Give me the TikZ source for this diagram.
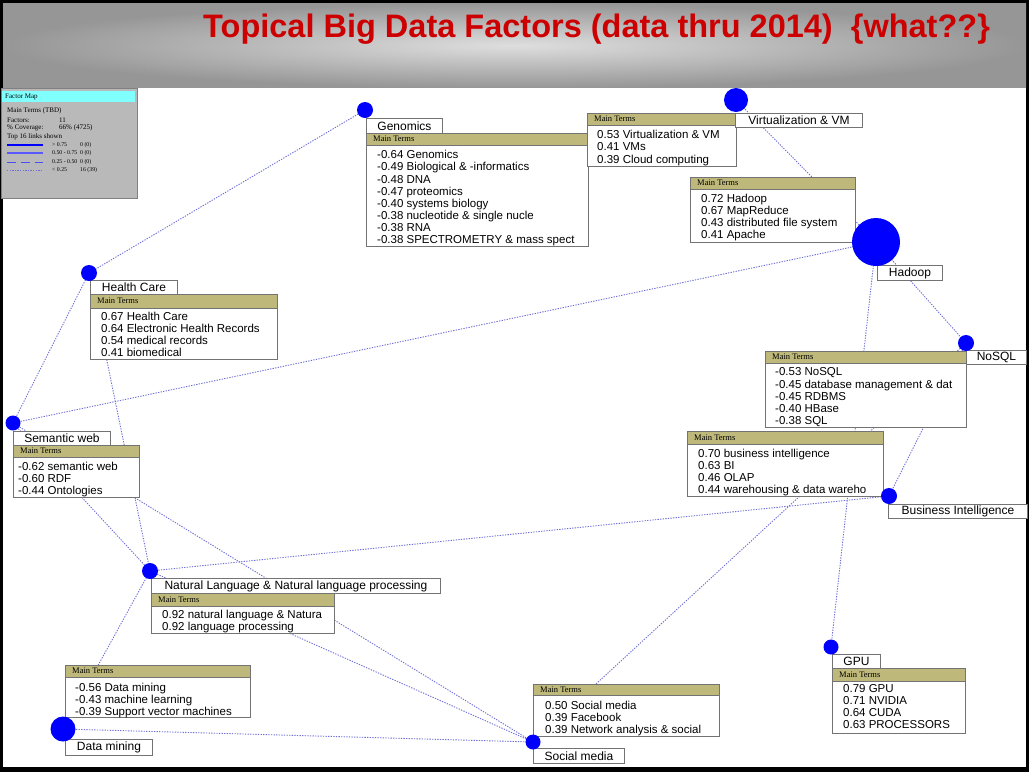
\documentclass[tikz,border=0pt]{standalone}
\usepackage{fontspec}
\setmainfont{Liberation Sans}
\newfontfamily\tnr{Liberation Serif}
\pgfdeclarelayer{back}
\pgfdeclarelayer{edges}
\pgfsetlayers{back,edges,main}
\definecolor{khaki}{RGB}{190,184,122}
\definecolor{boxgray}{RGB}{115,115,115}
\definecolor{edgeblue}{RGB}{110,110,215}
\definecolor{titlered}{RGB}{204,0,0}
\definecolor{legcyan}{RGB}{128,255,255}
\definecolor{leggray}{RGB}{185,185,185}
\definecolor{hdrlight}{RGB}{222,222,222}
\definecolor{hdrdark}{RGB}{150,150,150}
\newcommand\mkLabel[6]{%
  \node[lab, minimum width={#4-#2}, minimum height={#5-#3}] (#1) at (#2,#3) {#6};}
\newcommand\mkTerms[9]{%
  \node[tbox, minimum width={#4-#2}, minimum height={#5-#3}] (#1) at (#2,#3) {};
  \node[thead, minimum width={#4-#2}, minimum height={#6-#3}] (#1h) at (#2,#3) {};
  \node[mt] (#1m) at (#2+7,{(#3+#6)/2}) {Main Terms};
  \node[tlines] (#1t) at (#7,#8-8.3) {#9};}
\begin{document}
\begin{tikzpicture}[x=1pt,y=-1pt,
  fnode/.style={circle, fill=blue, draw=none, inner sep=0pt, minimum size=#1},
  lab/.style={draw=boxgray, fill=white, line width=0.9pt, inner sep=0pt, anchor=north west, font=\fontsize{12}{14}\selectfont},
  tbox/.style={draw=boxgray, fill=white, line width=0.9pt, inner sep=0pt, anchor=north west},
  thead/.style={draw=boxgray, fill=khaki, line width=0.9pt, inner sep=0pt, anchor=north west},
  mt/.style={font=\tnr\fontsize{8.5}{10}\selectfont, inner sep=0pt, anchor=west},
  tlines/.style={font=\fontsize{11.5}{12.15}\selectfont, align=left, inner sep=0pt, anchor=north west},
  link/.style={draw=edgeblue, line width=0.9pt, dash pattern=on 1.3pt off 1.3pt},
  legtxt/.style={font=\tnr\fontsize{7}{8}\selectfont, inner sep=0pt, anchor=west},
  legsmall/.style={font=\tnr\fontsize{5.8}{7}\selectfont, inner sep=0pt, anchor=west},
]
\useasboundingbox (0,0) rectangle (1029,772);
\begin{pgfonlayer}{back}
  \fill[black] (0,0) rectangle (1029,772);
  \shade[inner color=hdrlight, outer color=hdrdark] (3,3) rectangle (1026,88);
  \fill[white] (3,88) rectangle (1026,767);
\end{pgfonlayer}

% title
\node[anchor=base west, inner sep=0pt, text=titlered, font=\fontsize{32.5}{36}\selectfont\bfseries] (title) at (203,37.5) {Topical Big Data Factors (data thru 2014)\hspace{0.556em}\{what??\}};

% legend
\node[fill=leggray, draw=gray, line width=0.5pt, inner sep=0pt, minimum width=136, minimum height=110, anchor=north west] (legend) at (1,88) {};
\node[fill=legcyan, inner sep=0pt, minimum width=133, minimum height=11, anchor=north west] (leghead) at (2,91) {};
\node[legtxt] (lgA) at (5,97) {Factor Map};
\node[legtxt] (lgB) at (7,111) {Main Terms (TBD)};
\node[legtxt] (lgC) at (7,120) {Factors:};
\node[legtxt] (lgC2) at (59,120) {11};
\node[legtxt] (lgD) at (7,128) {\% Coverage:};
\node[legtxt] (lgD2) at (59,128) {66\% (4725)};
\node[legtxt] (lgE) at (7,137) {Top 16 links shown};
\draw[blue, line width=2.5pt] (7,145) -- (43,145);
\draw[blue!65, line width=1.2pt] (7,153) -- (43,153);
\draw[blue!70, line width=1pt, dash pattern=on 9pt off 5pt] (7,162) -- (43,162);
\draw[link] (7,170) -- (43,170);
\node[legsmall] (lgF) at (52,145) {> 0.75};
\node[legsmall] (lgF2) at (80,145) {0 (0)};
\node[legsmall] (lgG) at (52,153) {0.50 - 0.75};
\node[legsmall] (lgG2) at (80,153) {0 (0)};
\node[legsmall] (lgH) at (52,162) {0.25 - 0.50};
\node[legsmall] (lgH2) at (80,162) {0 (0)};
\node[legsmall] (lgI) at (52,170) {< 0.25};
\node[legsmall] (lgI2) at (80,170) {16 (39)};

% term boxes
\mkTerms{tGen}{366}{133}{588}{246}{145}{377}{158.5}{-0.64 Genomics\\-0.49 Biological \& -informatics\\-0.48 DNA\\-0.47 proteomics\\-0.40 systems biology\\-0.38 nucleotide \& single nucle\\-0.38 RNA\\-0.38 SPECTROMETRY \& mass spect}
\mkTerms{tVirt}{587}{113}{736}{166}{124.5}{597}{138.5}{0.53 Virtualization \& VM\\0.41 VMs\\0.39 Cloud computing}
\mkTerms{tHad}{690}{177}{855}{242}{189}{701}{202}{0.72 Hadoop\\0.67 MapReduce\\0.43 distributed file system\\0.41 Apache}
\mkTerms{tNoSQL}{765}{351}{966}{427}{363}{775}{376}{-0.53 NoSQL\\-0.45 database management \& dat\\-0.45 RDBMS\\-0.40 HBase\\-0.38 SQL}
\mkTerms{tBI}{687}{431}{883}{496}{444}{698}{457}{0.70 business intelligence\\0.63 BI\\0.46 OLAP\\0.44 warehousing \& data wareho}
\mkTerms{tGPU}{832}{668}{965}{733}{681}{843}{692.5}{0.79 GPU\\0.71 NVIDIA\\0.64 CUDA\\0.63 PROCESSORS}
\mkTerms{tSoc}{533}{684}{719}{736}{695}{545}{709}{0.50 Social media\\0.39 Facebook\\0.39 Network analysis \& social}
\mkTerms{tDM}{65}{665}{250}{717}{677}{75}{691}{-0.56 Data mining\\-0.43 machine learning\\-0.39 Support vector machines}
\mkTerms{tNL}{151}{593}{334}{633}{606}{162}{618}{0.92 natural language \& Natura\\0.92 language processing}
\mkTerms{tSem}{13}{445}{139}{497}{457}{18}{470}{-0.62 semantic web\\-0.60 RDF\\-0.44 Ontologies}
\mkTerms{tHC}{90}{294}{277}{359}{308}{101}{320}{0.67 Health Care\\0.64 Electronic Health Records\\0.54 medical records\\0.41 biomedical}

% label boxes
\mkLabel{lGen}{366}{118}{442}{133}{Genomics}
\mkLabel{lVirt}{735}{113}{862}{127}{Virtualization \& VM}
\mkLabel{lHad}{877}{265}{942}{280}{Hadoop}
\mkLabel{lNoSQL}{966}{350}{1026}{364}{NoSQL}
\mkLabel{lBI}{888}{504}{1027}{518}{Business Intelligence}
\mkLabel{lGPU}{832}{654}{880}{668}{GPU}
\mkLabel{lSoc}{533}{748}{624}{763}{Social media}
\mkLabel{lDM}{65}{739}{152}{755}{Data mining}
\mkLabel{lNL}{151}{578}{440}{593}{Natural Language \& Natural language processing}
\mkLabel{lSem}{13}{431}{110}{445}{Semantic web}
\mkLabel{lHC}{90}{280}{177}{294}{Health Care}

% factor circles
\node[fnode=16] (cGen) at (365,110) {};
\node[fnode=24] (cVirt) at (736,100) {};
\node[fnode=48] (cHad) at (876,242) {};
\node[fnode=16] (cNoSQL) at (966,343) {};
\node[fnode=16] (cBI) at (889,496) {};
\node[fnode=15] (cGPU) at (831,647) {};
\node[fnode=15] (cSoc) at (533,742) {};
\node[fnode=25] (cDM) at (63,729) {};
\node[fnode=16] (cNL) at (150,571) {};
\node[fnode=15] (cSem) at (13,423) {};
\node[fnode=16] (cHC) at (89,273) {};

% links
\begin{pgfonlayer}{edges}
  \draw[link] (cGen.center) -- (cHC.center);
  \draw[link] (cHC.center) -- (cSem.center);
  \draw[link] (cHC.center) -- (cNL.center);
  \draw[link] (cSem.center) -- (cHad.center);
  \draw[link] (cSem.center) -- (cNL.center);
  \draw[link] (cSem.center) -- (cSoc.center);
  \draw[link] (cVirt.center) -- (cHad.center);
  \draw[link] (cHad.center) -- (cNoSQL.center);
  \draw[link] (cHad.center) -- (cGPU.center);
  \draw[link] (cNoSQL.center) -- (cBI.center);
  \draw[link] (cNoSQL.center) -- (cSoc.center);
  \draw[link] (cBI.center) -- (cNL.center);
  \draw[link] (cNL.center) -- (cSoc.center);
  \draw[link] (cDM.center) -- (cNL.center);
  \draw[link] (cDM.center) -- (cSoc.center);
\end{pgfonlayer}
\end{tikzpicture}
\end{document}
